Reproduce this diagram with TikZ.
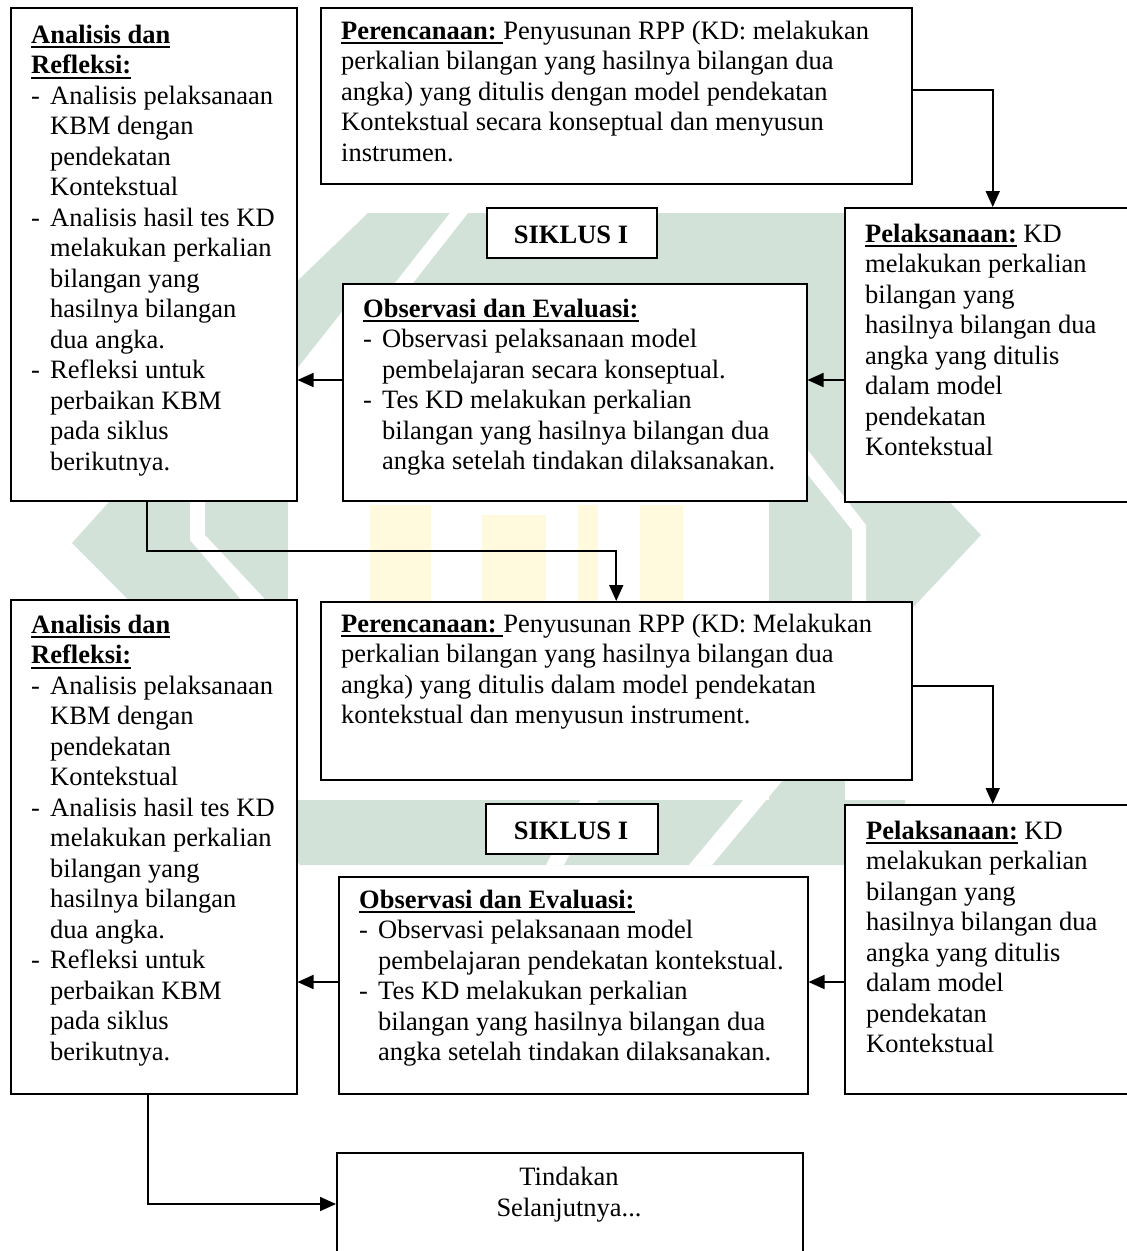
\documentclass[tikz,border=0pt]{standalone}
\usepackage{fontspec}
\setmainfont{Liberation Serif}
\usetikzlibrary{arrows.meta}
\newsavebox\ulbox
\newcommand\ulx[1]{\leavevmode\sbox\ulbox{#1}\rlap{\rule[-5pt]{\wd\ulbox}{1.9pt}}\usebox\ulbox}
\newcommand\tbx[1]{\begin{minipage}[t]{720pt}\raggedright\fontsize{26.5}{30.5}\selectfont #1\end{minipage}}
\newcommand\ind{\hspace*{19pt}}
\newcommand\dsh{\makebox[19pt][l]{-}}
\definecolor{wmgreen}{RGB}{211,226,217}
\definecolor{wmyellow}{RGB}{255,250,222}
\tikzset{
  boxs/.style={draw, line width=1.5pt, inner sep=0pt, anchor=north west, fill=white},
  txt/.style={inner sep=0pt, anchor=base west},
  arr/.style={line width=1.7pt, -{Triangle[length=16pt,width=14pt]}},
  wm/.style={fill=wmgreen, draw=none},
  wmy/.style={fill=wmyellow, draw=none},
  wmw/.style={fill=white, draw=none}
}
\begin{document}
\begin{tikzpicture}[x=1pt,y=-1pt]
\useasboundingbox (0,0) rectangle (1127,1251);
\clip (0,0) rectangle (1127,1251);
% faint watermark
\fill[wm] (368,213) -- (905,213) -- (905,283) -- (314,283) -- cycle;
\fill[wm] (368,213) -- (420,213) -- (288,380) -- (288,290) -- cycle;
\fill[wm] (250,800) -- (905,800) -- (905,865) -- (300,865) -- cycle;
\fill[wm] (208,300) rectangle (288,865);
\fill[wm] (769,213) rectangle (845,865);
\fill[wm] (208,392) -- (72,543) -- (208,680) -- cycle;
\fill[wm] (845,392) -- (981,535) -- (845,680) -- cycle;
\fill[wmw] (190,380) -- (190,540) -- (250,610) -- (275,610) -- (205,535) -- (205,380) -- cycle;
\fill[wmw] (780,440) -- (852,530) -- (852,700) -- (866,700) -- (866,525) -- (800,440) -- cycle;
\fill[wmw] (450,213) -- (468,213) -- (413,283) -- (395,283) -- cycle;
\fill[wmw] (591,780) -- (609,780) -- (564,865) -- (546,865) -- cycle;
\fill[wmw] (760,780) -- (783,780) -- (712,865) -- (689,865) -- cycle;
\fill[wmy] (370,505) rectangle (431,640);
\fill[wmy] (482,515) rectangle (546,640);
\fill[wmy] (578,505) rectangle (598,640);
\fill[wmy] (640,505) rectangle (683,640);
% boxes
\node[boxs, minimum width=286pt, minimum height=493pt] (A1) at (10,7) {};
\node[boxs, minimum width=591pt, minimum height=176pt] (P1) at (320,7) {};
\node[boxs, minimum width=170pt, minimum height=50pt] (S1) at (486,207) {};
\node[boxs, minimum width=296pt, minimum height=294pt] (Pel1) at (844,207) {};
\node[boxs, minimum width=464pt, minimum height=217pt] (O1) at (342,283) {};
\node[boxs, minimum width=286pt, minimum height=494pt] (A2) at (10,599) {};
\node[boxs, minimum width=591pt, minimum height=178pt] (P2) at (320,601) {};
\node[boxs, minimum width=172pt, minimum height=50pt] (S2) at (485,803) {};
\node[boxs, minimum width=296pt, minimum height=289pt] (Pel2) at (844,804) {};
\node[boxs, minimum width=469pt, minimum height=217pt] (O2) at (338,876) {};
\node[boxs, minimum width=466pt, minimum height=120pt] (T) at (336,1152) {};
% texts
\node[txt] (tA1) at (31,43) {\tbx{\ulx{\textbf{Analisis dan}}\\
\ulx{\textbf{Refleksi:}}\\
\dsh Analisis pelaksanaan\\
\ind KBM dengan\\
\ind pendekatan\\
\ind Kontekstual\\
\dsh Analisis hasil tes KD\\
\ind melakukan perkalian\\
\ind bilangan yang\\
\ind hasilnya bilangan\\
\ind dua angka.\\
\dsh Refleksi untuk\\
\ind perbaikan KBM\\
\ind pada siklus\\
\ind berikutnya.}};
\node[txt] (tP1) at (341,39) {\tbx{\ulx{\textbf{Perencanaan:}\ }Penyusunan RPP (KD: melakukan\\
perkalian bilangan yang hasilnya bilangan dua\\
angka) yang ditulis dengan model pendekatan\\
Kontekstual secara konseptual dan menyusun\\
instrumen.}};
\node[inner sep=0pt, anchor=base] (tS1) at (571,243) {\fontsize{26.5}{30.5}\selectfont\textbf{SIKLUS I}};
\node[txt] (tPel1) at (865,242) {\tbx{\ulx{\textbf{Pelaksanaan:}} KD\\
melakukan perkalian\\
bilangan yang\\
hasilnya bilangan dua\\
angka yang ditulis\\
dalam model\\
pendekatan\\
Kontekstual}};
\node[txt] (tO1) at (363,317) {\tbx{\ulx{\textbf{Observasi dan Evaluasi:}}\\
\dsh Observasi pelaksanaan model\\
\ind pembelajaran secara konseptual.\\
\dsh Tes KD melakukan perkalian\\
\ind bilangan yang hasilnya bilangan dua\\
\ind angka setelah tindakan dilaksanakan.}};
\node[txt] (tA2) at (31,633) {\tbx{\ulx{\textbf{Analisis dan}}\\
\ulx{\textbf{Refleksi:}}\\
\dsh Analisis pelaksanaan\\
\ind KBM dengan\\
\ind pendekatan\\
\ind Kontekstual\\
\dsh Analisis hasil tes KD\\
\ind melakukan perkalian\\
\ind bilangan yang\\
\ind hasilnya bilangan\\
\ind dua angka.\\
\dsh Refleksi untuk\\
\ind perbaikan KBM\\
\ind pada siklus\\
\ind berikutnya.}};
\node[txt] (tP2) at (341,632) {\tbx{\ulx{\textbf{Perencanaan:}\ }Penyusunan RPP (KD: Melakukan\\
perkalian bilangan yang hasilnya bilangan dua\\
angka) yang ditulis dalam model pendekatan\\
kontekstual dan menyusun instrument.}};
\node[inner sep=0pt, anchor=base] (tS2) at (571,839) {\fontsize{26.5}{30.5}\selectfont\textbf{SIKLUS I}};
\node[txt] (tPel2) at (866,839) {\tbx{\ulx{\textbf{Pelaksanaan:}} KD\\
melakukan perkalian\\
bilangan yang\\
hasilnya bilangan dua\\
angka yang ditulis\\
dalam model\\
pendekatan\\
Kontekstual}};
\node[txt] (tO2) at (359,908) {\tbx{\ulx{\textbf{Observasi dan Evaluasi:}}\\
\dsh Observasi pelaksanaan model\\
\ind pembelajaran pendekatan kontekstual.\\
\dsh Tes KD melakukan perkalian\\
\ind bilangan yang hasilnya bilangan dua\\
\ind angka setelah tindakan dilaksanakan.}};
\node[inner sep=0pt, anchor=base] (tT) at (569,1185) {\begin{minipage}[t]{400pt}\centering\fontsize{26.5}{31.5}\selectfont Tindakan\\ Selanjutnya...\end{minipage}};
% connectors
\coordinate (r1) at (0,380);
\coordinate (r2) at (0,982);
\coordinate (c1) at (147,551);
\coordinate (c2) at (148,1204);
\draw[arr] ([yshift=6pt]P1.east) -| (Pel1.north);
\draw[arr] (Pel1.west |- r1) -- (O1.east |- r1);
\draw[arr] (O1.west |- r1) -- (A1.east |- r1);
\draw[arr] (A1.south -| c1) -- (c1) -| (P2.north);
\draw[arr] ([yshift=5pt]P2.east) -| (Pel2.north);
\draw[arr] (Pel2.west |- r2) -- (O2.east |- r2);
\draw[arr] (O2.west |- r2) -- (A2.east |- r2);
\draw[arr] (A2.south -| c2) |- (T.west |- c2);
\end{tikzpicture}
\end{document}
